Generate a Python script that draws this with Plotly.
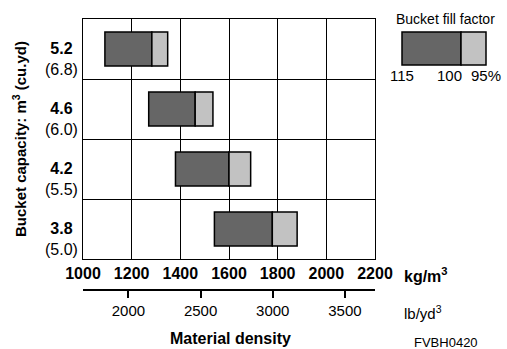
import plotly.graph_objects as go

# ---------------- data ----------------
capacity_m3 = ["5.2", "4.6", "4.2", "3.8"]
capacity_yd3 = ["(6.8)", "(6.0)", "(5.5)", "(5.0)"]
density_115 = [1090, 1270, 1380, 1540]   # kg/m3 at 115 % fill
density_100 = [1283, 1461, 1600, 1778]   # kg/m3 at 100 % fill
density_95 = [1348, 1534, 1689, 1880]    # kg/m3 at 95 % fill
kg_ticks = [1000, 1200, 1400, 1600, 1800, 2000, 2200]
lb_ticks = [2000, 2500, 3000, 3500]
KG_TO_LB = 1.6856
fill_factor_labels = ["115", "100", "95%"]

W, H = 507, 349
L, R, T, B = 83, 375, 19, 290   # paper box in pixels
MAIN_BOTTOM = 259


def xp(px):
    return (px - L) / (R - L)


def yp(py):
    return (B - py) / (B - T)


FONT = "Liberation Sans, Arial, Helvetica, sans-serif"
DARK = "#666666"
LIGHT = "#c2c2c2"

pos = list(range(len(capacity_m3)))

fig = go.Figure()
fig.add_trace(go.Bar(
    y=pos, base=density_115,
    x=[b - a for a, b in zip(density_115, density_100)],
    orientation="h", width=0.57,
    marker=dict(color=DARK, line=dict(color="black", width=1.5)),
    showlegend=False, hoverinfo="skip",
))
fig.add_trace(go.Bar(
    y=pos, base=density_100,
    x=[b - a for a, b in zip(density_100, density_95)],
    orientation="h", width=0.57,
    marker=dict(color=LIGHT, line=dict(color="black", width=1.5)),
    showlegend=False, hoverinfo="skip",
))
# empty helper trace so the secondary (lb/yd3) axis is drawn
fig.add_trace(go.Scatter(
    x=lb_ticks, y=[None] * len(lb_ticks), xaxis="x2", yaxis="y",
    mode="lines", showlegend=False, hoverinfo="skip",
))

annotations = []
for p, m3, yd3 in zip(pos, capacity_m3, capacity_yd3):
    annotations.append(dict(
        xref="paper", yref="y", x=xp(61), y=p, xanchor="center", yanchor="middle",
        yshift=-10, showarrow=False, align="center",
        text=f"<b>{m3}</b><br>{yd3}", font=dict(size=16, color="black", family=FONT),
    ))

annotations += [
    dict(xref="paper", yref="paper", x=xp(402), y=yp(275), xanchor="left", yanchor="middle",
         showarrow=False, text="<b>kg/m<sup>3</sup></b>", font=dict(size=16, color="black", family=FONT)),
    dict(xref="paper", yref="paper", x=xp(402), y=yp(312), xanchor="left", yanchor="middle",
         showarrow=False, text="lb/yd<sup>3</sup>", font=dict(size=15, color="black", family=FONT)),
    dict(xref="paper", yref="paper", x=xp(230), y=yp(338), xanchor="center", yanchor="middle",
         showarrow=False, text="<b>Material density</b>", font=dict(size=16, color="black", family=FONT)),
    dict(xref="paper", yref="paper", x=xp(412), y=yp(342), xanchor="left", yanchor="middle",
         showarrow=False, text="FVBH0420", font=dict(size=13, color="black", family=FONT)),
    dict(xref="paper", yref="paper", x=xp(19), y=yp(139), xanchor="center", yanchor="middle",
         textangle=-90, showarrow=False,
         text="<b>Bucket capacity: m<sup>3</sup> (cu.yd)</b>", font=dict(size=15, color="black", family=FONT)),
    dict(xref="paper", yref="paper", x=xp(445), y=yp(19), xanchor="center", yanchor="middle",
         showarrow=False, text="Bucket fill factor", font=dict(size=14, color="black", family=FONT)),
    dict(xref="paper", yref="paper", x=xp(402), y=yp(75), xanchor="center", yanchor="middle",
         showarrow=False, text=fill_factor_labels[0], font=dict(size=15, color="black", family=FONT)),
    dict(xref="paper", yref="paper", x=xp(449), y=yp(75), xanchor="center", yanchor="middle",
         showarrow=False, text=fill_factor_labels[1], font=dict(size=15, color="black", family=FONT)),
    dict(xref="paper", yref="paper", x=xp(486), y=yp(75), xanchor="center", yanchor="middle",
         showarrow=False, text=fill_factor_labels[2], font=dict(size=15, color="black", family=FONT)),
]

shapes = [
    dict(type="rect", xref="paper", yref="paper", x0=xp(402), x1=xp(461), y0=yp(65), y1=yp(32),
         fillcolor=DARK, line=dict(color="black", width=1.5)),
    dict(type="rect", xref="paper", yref="paper", x0=xp(461), x1=xp(486), y0=yp(65), y1=yp(32),
         fillcolor=LIGHT, line=dict(color="black", width=1.5)),
]

fig.update_layout(
    width=W, height=H,
    margin=dict(l=L, r=W - R, t=T, b=H - B, pad=0),
    paper_bgcolor="white", plot_bgcolor="white",
    barmode="overlay",
    font=dict(family=FONT, color="black"),
    xaxis=dict(
        range=[kg_ticks[0], kg_ticks[-1]], tickvals=kg_ticks, showgrid=True,
        gridcolor="black", gridwidth=1, showline=True, linecolor="black", linewidth=1,
        mirror=True, ticks="", zeroline=False,
        tickfont=dict(size=16, family=FONT, color="black", weight="bold"),
        anchor="y",
    ),
    xaxis2=dict(
        range=[kg_ticks[0] * KG_TO_LB, kg_ticks[-1] * KG_TO_LB], tickvals=lb_ticks,
        overlaying="x", anchor="free", position=0, side="bottom",
        showgrid=False, zeroline=False, showline=True, linecolor="black", linewidth=1.5,
        ticks="outside", ticklen=7, tickwidth=1.5, tickcolor="black",
        tickfont=dict(size=15, family=FONT, color="black"),
    ),
    yaxis=dict(
        range=[len(pos) - 0.5, -0.5], tickmode="linear", tick0=0.5, dtick=1,
        showticklabels=False, showgrid=True, gridcolor="black", gridwidth=1,
        showline=True, linecolor="black", linewidth=1, mirror=True, zeroline=False,
        domain=[yp(MAIN_BOTTOM), 1],
    ),
    annotations=annotations,
    shapes=shapes,
)

fig.write_html("out.html", config={"displayModeBar": False},
               post_script="document.body.style.margin='0';")
